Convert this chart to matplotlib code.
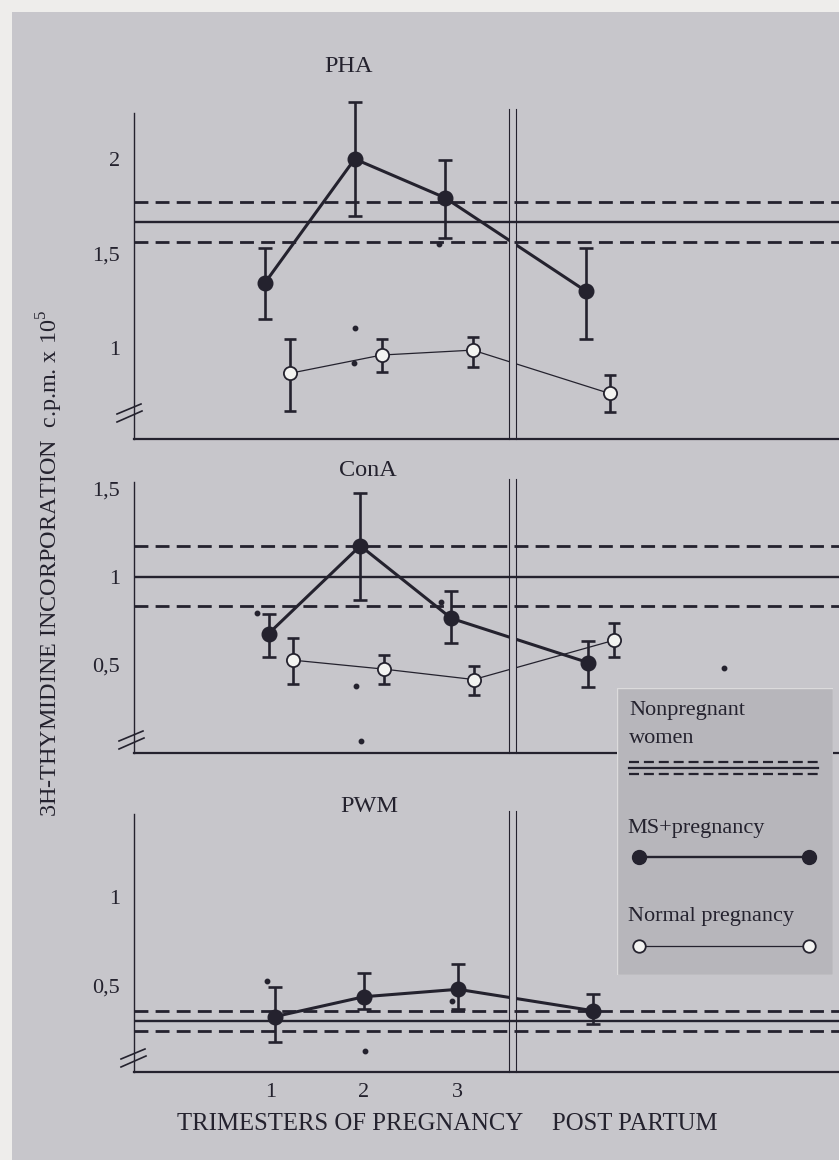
import matplotlib
matplotlib.use('Agg')
import matplotlib.pyplot as plt
from matplotlib.patches import Rectangle
from matplotlib.lines import Line2D

plt.rcParams['font.family'] = ['Liberation Serif', 'DejaVu Serif']
plt.rcParams['mathtext.fontset'] = 'custom'
plt.rcParams['mathtext.rm'] = 'Liberation Serif'

# ---------------- data ----------------
TRIMESTER_TICKS = [1, 2, 3]
TRIMESTER_LABELS = ['1', '2', '3']
DIVIDER_X = [3.56, 3.63]

# PHA
PHA_MS_X = [0.935, 1.90, 2.87, 4.39]
PHA_MS_Y = [1.345, 2.00, 1.795, 1.30]
PHA_MS_ERR_LO = [0.19, 0.30, 0.215, 0.25]
PHA_MS_ERR_HI = [0.185, 0.30, 0.20, 0.23]
PHA_NP_X = [1.20, 2.19, 3.17, 4.64]
PHA_NP_Y = [0.866, 0.963, 0.989, 0.76]
PHA_NP_ERR_LO = [0.20, 0.09, 0.09, 0.10]
PHA_NP_ERR_HI = [0.18, 0.085, 0.07, 0.095]
PHA_REF = [1.562, 1.668, 1.774]  # lower, mean, upper (nonpregnant women)
PHA_DOTS_X = [1.903, 1.896, 2.81]
PHA_DOTS_Y = [1.104, 0.919, 1.549]

# ConA
CONA_MS_X = [0.975, 1.96, 2.94, 4.41]
CONA_MS_Y = [0.678, 1.176, 0.764, 0.513]
CONA_MS_ERR_LO = [0.136, 0.305, 0.139, 0.138]
CONA_MS_ERR_HI = [0.11, 0.298, 0.155, 0.122]
CONA_NP_X = [1.235, 2.215, 3.18, 4.69]
CONA_NP_Y = [0.527, 0.476, 0.417, 0.64]
CONA_NP_ERR_LO = [0.133, 0.087, 0.085, 0.098]
CONA_NP_ERR_HI = [0.126, 0.083, 0.076, 0.095]
CONA_REF = [0.833, 1.0, 1.174]
CONA_DOTS_X = [0.85, 2.83, 1.91, 1.965, 5.87]
CONA_DOTS_Y = [0.795, 0.858, 0.379, 0.067, 0.481]

# PWM
PWM_MS_X = [1.04, 2.0, 3.01, 4.46]
PWM_MS_Y = [0.321, 0.434, 0.476, 0.355]
PWM_MS_ERR_LO = [0.145, 0.071, 0.11, 0.077]
PWM_MS_ERR_HI = [0.169, 0.136, 0.141, 0.094]
PWM_REF = [0.242, 0.296, 0.355]
PWM_DOTS_X = [0.955, 2.01, 2.95]
PWM_DOTS_Y = [0.525, 0.127, 0.411]

PHA_TICKS, PHA_TICKLABELS = [1, 1.5, 2], ['1', '1,5', '2']
CONA_TICKS, CONA_TICKLABELS = [0.5, 1, 1.5], ['0,5', '1', '1,5']
PWM_TICKS, PWM_TICKLABELS = [0.5, 1], ['0,5', '1']

# ---------------- style ----------------
W, H = 839, 1160
BG = '#c7c6cb'
OUTER = '#eeedeb'
LEGBG = '#b7b6bb'
INK = '#24222e'
XLIM = (1 + (134 - 271) / 93.0, 1 + (839 - 271) / 93.0)

fig = plt.figure(figsize=(W / 100, H / 100), dpi=100)
fig.patch.set_facecolor(OUTER)


def fx(px):
    return px / W


def fy(py):
    return 1 - py / H


fig.add_artist(Rectangle((fx(12), 0), 1 - fx(12), fy(12), transform=fig.transFigure,
                         facecolor=BG, edgecolor='none', zorder=0))

DASH = (0, (5.0, 2.6))


def panel(top_px, bot_px, ylim, ticks, ticklabels, ref, ms, np_=None, dots=None,
          show_x=False, break_px=None):
    ax = fig.add_axes([fx(134), fy(bot_px), 1 - fx(134), (bot_px - top_px) / H])
    ax.set_facecolor('none')
    ax.set_xlim(*XLIM)
    ax.set_ylim(*ylim)
    for s in ['top', 'right']:
        ax.spines[s].set_visible(False)
    ax.spines['left'].set_linewidth(1.0)
    ax.spines['bottom'].set_linewidth(1.6)
    ax.spines['left'].set_color(INK)
    ax.spines['bottom'].set_color(INK)
    ax.set_yticks(ticks)
    ax.set_yticklabels(ticklabels, fontsize=16, color=INK)
    ax.tick_params(axis='y', length=0, pad=10)
    if show_x:
        ax.set_xticks(TRIMESTER_TICKS)
        ax.set_xticklabels(TRIMESTER_LABELS, fontsize=16, color=INK)
        ax.tick_params(axis='x', length=0, pad=8)
    else:
        ax.set_xticks([])

    # reference band (nonpregnant women)
    ax.axhline(ref[1], color=INK, lw=1.7, zorder=6)
    ax.axhline(ref[0], color=INK, lw=2.0, ls=DASH, zorder=6)
    ax.axhline(ref[2], color=INK, lw=2.0, ls=DASH, zorder=6)

    # normal pregnancy
    if np_ is not None:
        x, y, lo, hi = np_
        ax.plot(x, y, color=INK, lw=0.9, zorder=2)
        ax.errorbar(x, y, yerr=[lo, hi], fmt='none', ecolor=INK, elinewidth=1.9,
                    capsize=4.5, capthick=1.9, zorder=2.5, clip_on=False)
        ax.plot(x, y, 'o', ms=9.5, mfc='#f3f3f1', mec=INK, mew=1.3, zorder=7, clip_on=False)

    # MS + pregnancy
    x, y, lo, hi = ms
    ax.plot(x, y, color=INK, lw=2.2, zorder=2)
    ax.errorbar(x, y, yerr=[lo, hi], fmt='none', ecolor=INK, elinewidth=1.9,
                capsize=5, capthick=1.9, zorder=2.5, clip_on=False)
    ax.plot(x, y, 'o', ms=10.5, mfc=INK, mec=INK, zorder=7, clip_on=False)

    if dots is not None:
        ax.plot(dots[0], dots[1], 'o', ls='none', ms=3.2, color=INK, zorder=7, clip_on=False)

    # divider between pregnancy and post partum
    ax.axvspan(DIVIDER_X[0], DIVIDER_X[1], ymin=0.012, ymax=1.0, color=BG, lw=0, zorder=3)
    for xv in DIVIDER_X:
        ax.axvline(xv, ymin=0, ymax=1.012, color=INK, lw=0.8, zorder=4, clip_on=False)

    # axis break marks
    if break_px is not None:
        sx, cy = break_px
        for (a, b) in [((-15, 1), (9, -9)), ((-15, 9), (10, -2))]:
            fig.add_artist(Line2D([fx(sx + a[0]), fx(sx + b[0])],
                                  [fy(cy + a[1]), fy(cy + b[1])],
                                  transform=fig.transFigure, color=INK, lw=1.2))
    return ax


ax1 = panel(113, 439, (0.519, 2.243), PHA_TICKS, PHA_TICKLABELS, PHA_REF,
            (PHA_MS_X, PHA_MS_Y, PHA_MS_ERR_LO, PHA_MS_ERR_HI),
            (PHA_NP_X, PHA_NP_Y, PHA_NP_ERR_LO, PHA_NP_ERR_HI),
            (PHA_DOTS_X, PHA_DOTS_Y), break_px=(132, 413))
ax2 = panel(482, 753, (0.0, 1.538), CONA_TICKS, CONA_TICKLABELS, CONA_REF,
            (CONA_MS_X, CONA_MS_Y, CONA_MS_ERR_LO, CONA_MS_ERR_HI),
            (CONA_NP_X, CONA_NP_Y, CONA_NP_ERR_LO, CONA_NP_ERR_HI),
            (CONA_DOTS_X, CONA_DOTS_Y), break_px=(134, 740))
ax3 = panel(814, 1072, (0.008, 1.468), PWM_TICKS, PWM_TICKLABELS, PWM_REF,
            (PWM_MS_X, PWM_MS_Y, PWM_MS_ERR_LO, PWM_MS_ERR_HI),
            None, (PWM_DOTS_X, PWM_DOTS_Y), show_x=True, break_px=(136, 1058))

# titles
fig.text(fx(349), fy(66), 'PHA', ha='center', va='center', fontsize=17.5, color=INK)
fig.text(fx(368), fy(470), 'ConA', ha='center', va='center', fontsize=17.5, color=INK)
fig.text(fx(369), fy(806), 'PWM', ha='center', va='center', fontsize=17.5, color=INK)

# axis labels
fig.text(fx(177), fy(1124), 'TRIMESTERS OF PREGNANCY', ha='left', va='center',
         fontsize=17.8, color=INK)
fig.text(fx(552), fy(1124), 'POST PARTUM', ha='left', va='center', fontsize=17.8, color=INK)
fig.text(fx(50), fy(563), '3H-THYMIDINE INCORPORATION  c.p.m. x 10$^5$', rotation=90,
         ha='center', va='center', fontsize=17.4, color=INK)

# legend panel
lax = fig.add_axes([fx(617), fy(975), fx(833) - fx(617), (975 - 688) / H], zorder=10)
lax.set_xlim(617, 833)
lax.set_ylim(975, 688)
lax.axis('off')
lax.add_patch(Rectangle((0, 0), 1, 1, transform=lax.transAxes, facecolor=LEGBG,
                        edgecolor='#dcdbdc', lw=1.0, zorder=0))
lax.text(629, 710, 'Nonpregnant', fontsize=16, color=INK, va='center', ha='left')
lax.text(629, 738, 'women', fontsize=16, color=INK, va='center', ha='left')
lax.plot([629, 818], [761.5, 761.5], color=INK, lw=1.6, ls=(0, (4.5, 2.2)))
lax.plot([629, 818], [767.7, 767.7], color=INK, lw=1.6)
lax.plot([629, 818], [773.9, 773.9], color=INK, lw=1.6, ls=(0, (4.5, 2.2)))
lax.text(627, 828, 'MS+pregnancy', fontsize=16, color=INK, va='center', ha='left')
lax.plot([639, 809], [857, 857], color=INK, lw=1.7, marker='o', ms=10, mfc=INK, mec=INK)
lax.text(628, 917, 'Normal pregnancy', fontsize=16, color=INK, va='center', ha='left')
lax.plot([639, 809], [946, 946], color=INK, lw=0.9, marker='o', ms=9, mfc='#f3f3f1',
         mec=INK, mew=1.3)

fig.savefig('out.png', dpi=100, facecolor=fig.get_facecolor())
